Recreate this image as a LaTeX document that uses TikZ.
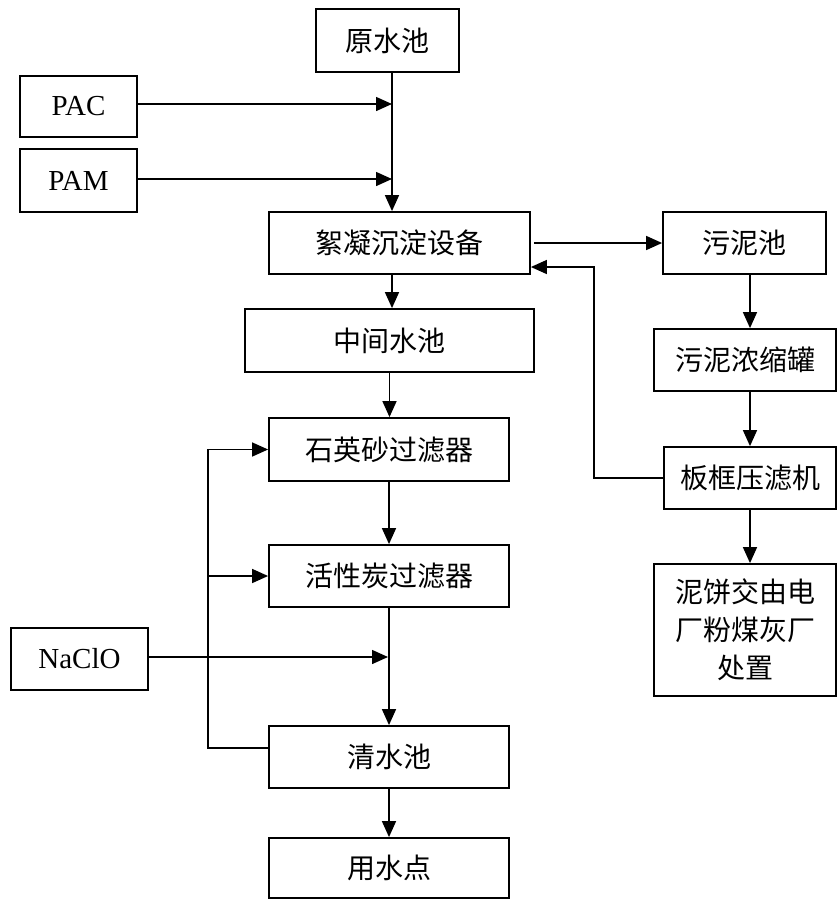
\documentclass[tikz,border=0pt]{standalone}
\usepackage{fontspec}
\setmainfont{Liberation Serif}
\newfontfamily\cjk{Noto Sans CJK SC}
\usepackage{tikz}
\usetikzlibrary{arrows.meta,positioning,calc}
\tikzset{
  wbox/.style  ={rectangle, draw=black, fill=white, line width=1.8pt,
                 inner sep=0pt, align=center, text=black,
                 font=\fontsize{28}{38}\selectfont\cjk},
  wlatin/.style={wbox, font=\fontsize{29}{34}\selectfont},
  wline/.style ={line width=1.5pt, draw=black},
  warrow/.style={wline, -{Triangle[length=16pt,width=14pt]}},
}

\begin{document}
\begin{tikzpicture}[x=1pt,y=-1pt]
  \useasboundingbox (0,0) rectangle (837,900);
  % main water line
  \node[wbox, minimum width=143pt, minimum height=63pt] (yuan) at (387.5,40.5) {原水池};
  \node[wlatin, minimum width=117pt, minimum height=61pt] (pac) at (78.5,106.5) {PAC};
  \node[wlatin, minimum width=117pt, minimum height=63pt] (pam) at (78.5,180.5) {PAM};
  \node[wbox, minimum width=261pt, minimum height=62pt] (xn) at (399.5,243) {絮凝沉淀设备};
  \node[wbox, minimum width=289pt, minimum height=63pt] (zj) at (389.5,340.5) {中间水池};
  \node[wbox, minimum width=240pt, minimum height=63pt] (sys) at (389,449.5) {石英砂过滤器};
  \node[wbox, minimum width=240pt, minimum height=62pt] (hxt) at (389,576) {活性炭过滤器};
  \node[wlatin, minimum width=137pt, minimum height=62pt] (naclo) at (79.5,659) {NaClO};
  \node[wbox, minimum width=240pt, minimum height=62pt] (qs) at (389,757) {清水池};
  \node[wbox, minimum width=240pt, minimum height=60pt] (ys) at (389,868) {用水点};
  % sludge line
  \node[wbox, minimum width=163pt, minimum height=62pt] (wnc) at (744.5,243) {污泥池};
  \node[wbox, minimum width=182pt, minimum height=62pt] (nsg) at (745,360) {污泥浓缩罐};
  \node[wbox, minimum width=172pt, minimum height=62pt] (bk) at (750,478) {板框压滤机};
  \node[wbox, minimum width=182pt, minimum height=132pt] (nb) at (745,630) {泥饼交由电\\厂粉煤灰厂\\处置};

  \coordinate (jpac) at (392,104);
  \coordinate (jpam) at (392,179);
  \coordinate (jnaclo) at (388,657);
  \coordinate (jback) at (208,748);
  \coordinate (jret) at (594,267);

  \draw[warrow] (yuan.south -| jpac) -- (jpac |- xn.north);
  \draw[warrow] (pac.east |- jpac) -- (jpac);
  \draw[warrow] (pam.east |- jpam) -- (jpam);
  \draw[warrow] (xn.south -| jpac) -- (jpac |- zj.north);
  \draw[warrow] (zj.south) -- (zj.south |- sys.north);
  \draw[warrow] (sys.south) -- (hxt.north);
  \draw[warrow] (hxt.south) -- (qs.north);
  \draw[warrow] (naclo.east |- jnaclo) -- (jnaclo);
  \draw[warrow] (qs.south) -- (ys.north);
  % backwash
  \draw[warrow] (qs.west |- jback) -- (jback) |- (sys.west);
  \draw[warrow] (jback |- hxt.west) -- (hxt.west);
  % sludge
  \draw[warrow] ([xshift=3pt]xn.east) -- (wnc.west);
  \draw[warrow] (wnc.south -| bk.north) -- (bk.north |- nsg.north);
  \draw[warrow] (nsg.south -| bk.north) -- (bk.north);
  \draw[warrow] (bk.south) -- (bk.south |- nb.north);
  \draw[warrow] (bk.west) -| (jret) -- (xn.east |- jret);
\end{tikzpicture}
\end{document}
